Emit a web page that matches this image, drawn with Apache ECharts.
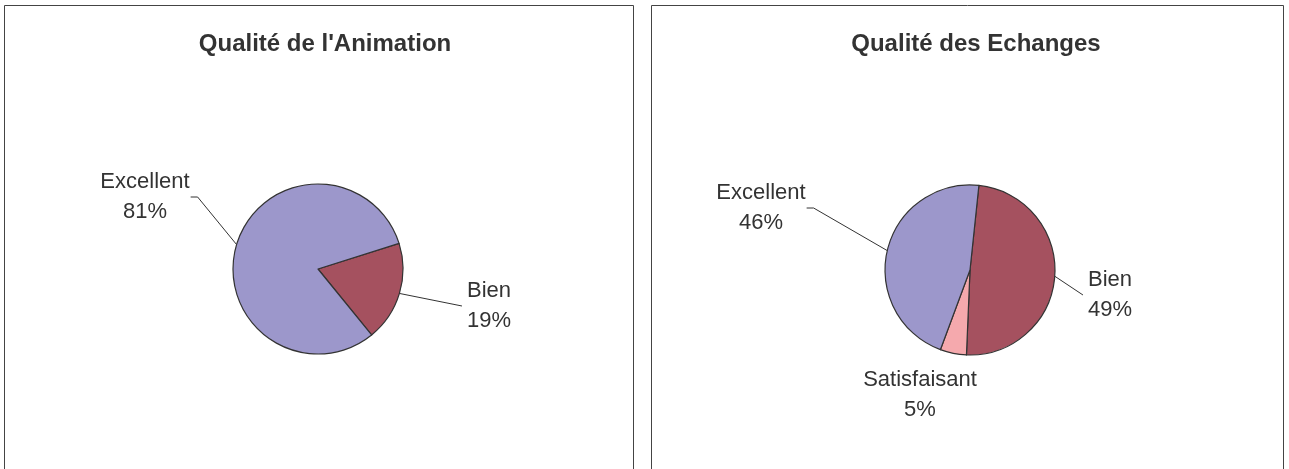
<!DOCTYPE html>
<html>
<head>
<meta charset="utf-8">
<script src="https://cdn.jsdelivr.net/npm/echarts@6/dist/echarts.min.js"></script>
<style>
html,body{margin:0;padding:0;background:#fff;}
#chart{width:1289px;height:469px;}
</style>
</head>
<body>
<div id="chart"></div>
<script>
// ---- data ----
const titles = ["Qualité de l'Animation", "Qualité des Echanges"];
const categoriesAnimation = ["Bien", "Excellent"];
const valuesAnimation = [19, 81];
const categoriesEchanges = ["Bien", "Satisfaisant", "Excellent"];
const valuesEchanges = [49, 5, 46];

// ---- style / layout ----
const colorMap = { "Excellent": "#9C97CB", "Bien": "#A5515F", "Satisfaisant": "#F5A9AD" };
const FONT = "'Liberation Sans', Arial, sans-serif";
const pies = [
  { center: [318, 269], startAngle: 17.5, titleX: 320 },
  { center: [970, 270], startAngle: 84, titleX: 971 }
];
// label block centre offsets from pie centre, and leader side
const labelLayouts = [
  { "Bien": { dx: 171, dy: 37, line: 'left' }, "Excellent": { dx: -173, dy: -72, line: 'right' } },
  { "Bien": { dx: 140, dy: 25, line: 'left' }, "Satisfaisant": { dx: -50, dy: 125, line: 'none' }, "Excellent": { dx: -209, dy: -62, line: 'right' } }
];

const chart = echarts.init(document.getElementById('chart'), null, { renderer: 'canvas' });

function makeSeries(idx, cats, vals) {
  const p = pies[idx];
  return {
    type: 'pie',
    radius: 85,
    center: p.center,
    startAngle: p.startAngle,
    clockwise: true,
    animation: false,
    silent: true,
    data: cats.map((c, i) => ({ name: c, value: vals[i], itemStyle: { color: colorMap[c] } })),
    itemStyle: { borderColor: '#333333', borderWidth: 1.2 },
    label: {
      show: true,
      formatter: '{b}\n{d}%',
      fontFamily: FONT,
      fontSize: 22,
      lineHeight: 30,
      color: '#333333',
      align: 'center'
    },
    labelLine: { show: true, length: 10, length2: 10, lineStyle: { color: '#333333', width: 1 } },
    labelLayout: function (params) {
      const name = cats[params.dataIndex];
      const L = labelLayouts[idx][name];
      const x = p.center[0] + L.dx;
      const y = p.center[1] + L.dy;
      const w = params.labelRect.width;
      const start = params.labelLinePoints ? params.labelLinePoints[0] : [x, y];
      let pts;
      if (L.line === 'right') {
        pts = [start, [x + w / 2 + 8, y], [x + w / 2 + 1, y]];
      } else if (L.line === 'left') {
        pts = [start, [x - w / 2 - 5, y], [x - w / 2 - 5, y]];
      } else {
        pts = [start, start, start];
      }
      return { x: x, y: y, align: 'center', verticalAlign: 'middle', labelLinePoints: pts };
    }
  };
}

chart.setOption({
  animation: false,
  backgroundColor: '#ffffff',
  title: titles.map((t, i) => ({
    text: t,
    left: pies[i].titleX,
    top: 27,
    textAlign: 'center',
    textStyle: { fontFamily: FONT, fontSize: 24, fontWeight: 'bold', color: '#333333' }
  })),
  graphic: [
    { type: 'rect', shape: { x: 4.5, y: 5.5, width: 629, height: 520 }, style: { fill: 'none', stroke: '#444444', lineWidth: 1 }, silent: true },
    { type: 'rect', shape: { x: 651.5, y: 5.5, width: 632, height: 520 }, style: { fill: 'none', stroke: '#444444', lineWidth: 1 }, silent: true }
  ],
  series: [
    makeSeries(0, categoriesAnimation, valuesAnimation),
    makeSeries(1, categoriesEchanges, valuesEchanges)
  ]
});
</script>
</body>
</html>
